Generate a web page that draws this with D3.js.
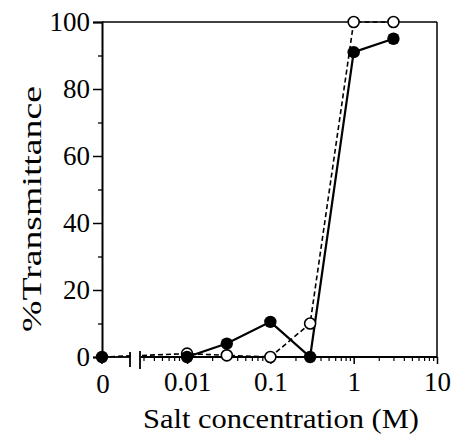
<!DOCTYPE html>
<html><head><meta charset="utf-8">
<script src="https://cdn.jsdelivr.net/npm/d3@7/dist/d3.min.js"></script>
<style>body{margin:0;background:#fff}svg{display:block}
text{font-family:'Liberation Serif','Times New Roman','DejaVu Serif',serif !important;fill:#000}</style>
</head><body>
<svg id="c" width="456" height="437"></svg>
<script>
// data
const concentrations = [0, 0.01, 0.03, 0.1, 0.3, 1, 3];
const filledSeries = [0, 0, 4, 10.5, 0, 91, 95];
const openSeries = [0, 1, 0.5, 0, 10, 100, 100];
const xTickValues = [0.01, 0.1, 1, 10];
const xTickLabels = ["0.01", "0.1", "1", "10"];
const yTickValues = [0, 20, 40, 60, 80, 100];
const yMinorValues = [10, 30, 50, 70, 90];

const svg = d3.select("#c");
const L = 102, R = 437, T = 22, B = 357;
const breakL = 130, breakR = 141;

const x = d3.scaleLog().domain([0.0028, 10]).range([breakR, R]);
const y = d3.scaleLinear().domain([0, 100]).range([B, T]);
const xpos = v => v === 0 ? L : x(v);

// frame
svg.append("line").attr("x1", L).attr("x2", R).attr("y1", T).attr("y2", T).attr("stroke", "#000").attr("stroke-width", 1.5);
svg.append("line").attr("x1", R).attr("x2", R).attr("y1", T).attr("y2", B).attr("stroke", "#000").attr("stroke-width", 1.5);

// y axis
const yAxis = d3.axisLeft(y).tickValues(yTickValues).tickSize(9).tickPadding(3).tickFormat(d3.format("d"));
const gy = svg.append("g").attr("transform", `translate(${L},0)`).call(yAxis);
gy.select(".domain").attr("stroke-width", 2);
gy.selectAll(".tick line").attr("stroke-width", 1.5);
gy.selectAll("text").style("font-size", "27px");
const gyMinor = svg.append("g").attr("transform", `translate(${L},0)`)
  .call(d3.axisLeft(y).tickValues(yMinorValues).tickSize(4).tickFormat(""));
gyMinor.select(".domain").remove();
gyMinor.selectAll(".tick line").attr("stroke-width", 1.3);

// x axis (log part)
const minor = [];
for (let e = -3; e <= 0; e++) for (let m = 1; m <= 9; m++) {
  const v = m * Math.pow(10, e);
  if (v >= 0.0028 && v <= 10 && m !== 1) minor.push(v);
}
const gxm = svg.append("g").attr("transform", `translate(0,${B})`)
  .call(d3.axisBottom(x).tickValues(minor).tickSize(4).tickFormat(""));
gxm.select(".domain").remove();
gxm.selectAll(".tick line").attr("stroke-width", 1.2);
const gx = svg.append("g").attr("transform", `translate(0,${B})`)
  .call(d3.axisBottom(x).tickValues(xTickValues).tickSize(7).tickPadding(8).tickFormat((d, i) => xTickLabels[i]));
gx.select(".domain").attr("d", `M${breakR},0H${R}`).attr("stroke-width", 1.8);
gx.selectAll(".tick line").attr("stroke-width", 1.5);
gx.selectAll("text").style("font-size", "27px");

// zero segment of x axis
svg.append("line").attr("x1", L).attr("x2", breakL).attr("y1", B).attr("y2", B).attr("stroke", "#000").attr("stroke-width", 1.8);
svg.append("line").attr("x1", L).attr("x2", L).attr("y1", B).attr("y2", B + 7).attr("stroke", "#000").attr("stroke-width", 1.5);
svg.append("text").attr("x", L + 1).attr("y", B + 36).attr("text-anchor", "middle")
  .style("font-size", "27px").text("0");

// lines
const pts = s => concentrations.map((c, i) => [xpos(c), y(s[i])]);
const line = d3.line();
const linesG = svg.append("g");
linesG.append("path").attr("d", line(pts(openSeries))).attr("fill", "none")
  .attr("stroke", "#000").attr("stroke-width", 1.6).attr("stroke-dasharray", "5,3");
linesG.append("path").attr("d", line(pts(filledSeries).slice(1))).attr("fill", "none")
  .attr("stroke", "#000").attr("stroke-width", 2.2);

// gap of the axis break
svg.append("rect").attr("x", breakL + 1).attr("y", B - 4).attr("width", breakR - breakL - 2).attr("height", 8).attr("fill", "#fff");
svg.append("line").attr("x1", breakL).attr("x2", breakL).attr("y1", B - 5).attr("y2", B + 10).attr("stroke", "#000").attr("stroke-width", 1.8);
svg.append("line").attr("x1", breakR - 1).attr("x2", breakR - 1).attr("y1", B - 6).attr("y2", B + 12).attr("stroke", "#000").attr("stroke-width", 1.8);

// markers
svg.append("g").selectAll("circle").data(concentrations.map((c, i) => [c, openSeries[i]]).slice(1)).join("circle")
  .attr("cx", d => xpos(d[0])).attr("cy", d => y(d[1])).attr("r", 5.5)
  .attr("fill", "#fff").attr("stroke", "#000").attr("stroke-width", 1.6);
svg.append("g").selectAll("circle").data(concentrations.map((c, i) => [c, filledSeries[i]])).join("circle")
  .attr("cx", d => xpos(d[0])).attr("cy", d => y(d[1])).attr("r", 6.2).attr("fill", "#000");

// titles
svg.append("text").attr("x", 281).attr("y", 428).attr("text-anchor", "middle")
  .style("font-size", "27px").attr("textLength", 276).attr("lengthAdjust", "spacingAndGlyphs")
  .text("Salt concentration (M)");
svg.append("text").attr("transform", "translate(41,209) rotate(-90)").attr("text-anchor", "middle")
  .style("font-size", "27px").attr("textLength", 246).attr("lengthAdjust", "spacingAndGlyphs")
  .text("%Transmittance");
</script>
</body></html>
